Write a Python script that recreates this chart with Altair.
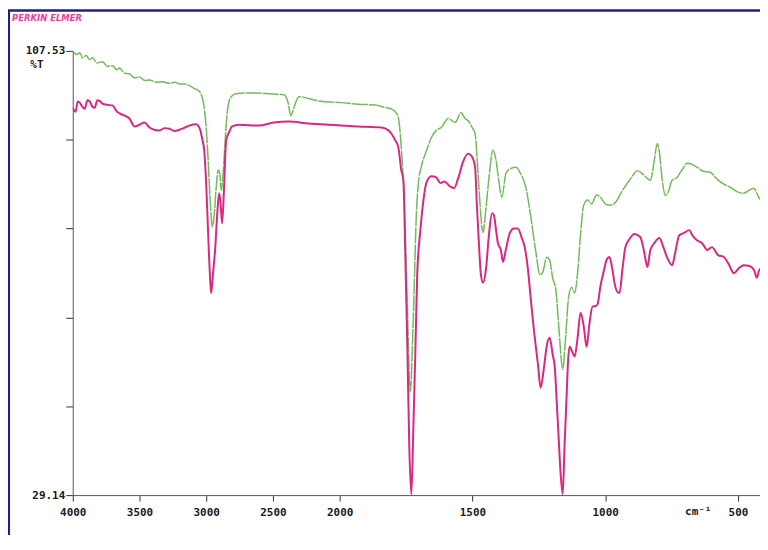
import altair as alt
import pandas as pd

green_wn = [4000, 3970, 3948, 3925, 3900, 3873, 3850, 3820, 3776, 3740, 3701, 3670, 3649, 3610,
            3575, 3540, 3500, 3460, 3425, 3373, 3330, 3276, 3230, 3201, 3160, 3127, 3082, 3052,
            3030, 3015, 3000, 2985, 2970, 2955, 2940, 2925, 2910, 2899, 2888, 2873, 2858, 2843,
            2828, 2806, 2776, 2679, 2530, 2418, 2388, 2366, 2343, 2306, 2157, 1993, 1929, 1865,
            1835, 1805, 1786, 1779, 1768, 1756, 1745, 1734, 1723, 1711, 1704, 1693, 1674, 1655,
            1636, 1618, 1591, 1565, 1543, 1528, 1516, 1501, 1490, 1483, 1475, 1460, 1449, 1438,
            1423, 1411, 1400, 1389, 1374, 1355, 1336, 1318, 1299, 1280, 1261, 1246, 1235, 1220,
            1209, 1198, 1186, 1175, 1160, 1149, 1138, 1126, 1115, 1104, 1093, 1081, 1066, 1051,
            1033, 1018, 999, 980, 961, 939, 916, 898, 879, 856, 830, 815, 804, 796, 785, 774,
            763, 748, 729, 710, 691, 673, 654, 631, 605, 579, 553, 530, 504, 478, 459, 440, 422, 403]
green_t = [107.53, 106.9, 107.2, 106.3, 106.7, 106.0, 106.3, 105.4, 105.6, 104.8, 104.9, 104.2, 104.5, 103.6,
           103.5, 102.8, 102.9, 102.3, 102.4, 102.0, 102.1, 101.8, 102.0, 101.7, 101.7, 101.4, 100.8, 100.4,
           99.3, 97.5, 94.0, 88.0, 81.0, 76.5, 78.5, 83.5, 86.5, 86.0, 82.9, 86.0, 91.7, 96.6,
           98.7, 99.6, 99.97, 100.1, 99.97, 99.8, 98.5, 96.1, 97.5, 99.45, 98.7, 98.4, 98.1, 98.0,
           97.6, 97.3, 96.5, 95.75, 90.5, 80.0, 62.0, 47.4, 60.0, 78.9, 84.0, 87.0, 89.8, 92.2,
           93.5, 94.0, 95.6, 94.9, 96.6, 95.6, 95.2, 94.0, 92.9, 89.0, 83.0, 75.5, 79.8, 85.0,
           90.0, 88.2, 84.3, 81.7, 85.9, 86.8, 87.0, 85.8, 83.5, 78.2, 72.0, 68.0, 68.5, 71.1,
           70.6, 67.5, 65.4, 59.0, 51.3, 57.0, 64.0, 65.8, 64.8, 68.4, 75.0, 80.3, 81.2, 80.5,
           82.1, 81.7, 80.5, 80.3, 80.8, 82.6, 84.2, 85.4, 86.4, 85.7, 84.7, 88.2, 91.2, 89.6, 84.7, 82.0,
           82.6, 84.7, 85.2, 86.6, 87.7, 87.5, 87.0, 86.3, 86.1, 84.9, 84.0, 83.5, 82.7, 82.4, 82.9, 83.3, 81.7, 80.6]

magenta_wn = [4000, 3978, 3963, 3948, 3925, 3910, 3890, 3873, 3850, 3836, 3815, 3799, 3776, 3739,
              3701, 3675, 3649, 3612, 3575, 3537, 3500, 3463, 3425, 3390, 3351, 3310, 3276, 3240,
              3201, 3160, 3127, 3075, 3045, 3030, 3015, 3000, 2985, 2970, 2963, 2948, 2933, 2918,
              2903, 2892, 2881, 2866, 2851, 2828, 2806, 2754, 2604, 2493, 2381, 2231, 2082, 1993,
              1929, 1843, 1816, 1805, 1790, 1779, 1768, 1760, 1753, 1745, 1738, 1730, 1723, 1715,
              1708, 1696, 1685, 1674, 1655, 1636, 1621, 1606, 1584, 1569, 1554, 1535, 1516, 1501,
              1490, 1483, 1475, 1468, 1460, 1449, 1438, 1426, 1419, 1411, 1404, 1393, 1385, 1374,
              1359, 1344, 1329, 1314, 1303, 1291, 1280, 1269, 1254, 1243, 1231, 1220, 1209, 1198,
              1190, 1183, 1175, 1168, 1160, 1153, 1145, 1141, 1134, 1123, 1115, 1104, 1093, 1081,
              1070, 1059, 1048, 1036, 1029, 1018, 1006, 995, 984, 973, 965, 954, 946, 935, 924,
              909, 890, 868, 853, 841, 830, 815, 796, 781, 766, 748, 736, 721, 703, 684, 669, 654,
              635, 616, 598, 575, 553, 534, 515, 496, 478, 459, 440, 429, 418, 403]
magenta_t = [97.5, 96.8, 98.6, 98.4, 97.6, 97.3, 98.8, 98.6, 97.6, 97.5, 98.8, 98.7, 98.2, 98.0,
             97.9, 97.0, 96.5, 96.1, 95.6, 94.2, 94.5, 94.9, 94.0, 93.6, 93.5, 93.9, 93.8, 93.4,
             93.6, 94.0, 94.35, 94.6, 93.6, 92.0, 90.0, 84.0, 75.0, 67.0, 64.8, 68.5, 72.5, 78.5,
             82.4, 80.5, 77.1, 83.5, 91.7, 93.2, 94.2, 94.5, 94.35, 94.9, 95.05, 94.7, 94.5, 94.35,
             94.2, 94.0, 93.5, 92.9, 91.7, 90.5, 86.5, 84.7, 72.0, 55.0, 38.0, 29.3, 40.0, 54.5,
             68.0, 75.9, 81.0, 84.15, 85.4, 85.2, 84.2, 84.5, 83.6, 83.3, 85.0, 88.0, 89.4, 88.8,
             87.0, 80.0, 73.0, 68.0, 66.6, 69.0, 75.0, 78.9, 78.5, 75.9, 73.6, 72.4, 70.3, 72.5,
             75.4, 76.2, 76.2, 74.5, 72.9, 69.0, 63.6, 58.5, 52.5, 48.1, 51.5, 55.5, 56.9, 54.0,
             51.8, 46.0, 39.0, 33.0, 29.3, 38.0, 47.0, 51.8, 55.3, 54.3, 53.6, 56.9, 61.3, 59.0,
             55.3, 59.5, 62.4, 62.5, 62.8, 66.0, 68.5, 70.6, 71.15, 69.0, 66.6, 65.0, 64.8, 69.0, 72.9,
             74.3, 75.2, 74.7, 72.0, 69.4, 72.4, 73.6, 74.5, 72.9, 71.0, 69.7, 72.0, 75.0, 75.4, 75.9, 74.8, 74.1,
             73.6, 72.4, 72.9, 71.5, 71.15, 69.8, 68.3, 69.2, 69.7, 69.6, 68.9, 67.5, 69.0, 67.1]

x_ticks = [4000, 3500, 3000, 2500, 2000, 1500, 1000, 500]
y_ticks = [29.14, 44.818, 60.496, 76.174, 91.852, 107.53]

W, H = 690, 446
FONT = "DejaVu Sans Mono"

xscale = alt.Scale(domain=[4000, 2000, 417], range=[0, 268, W], nice=False, zero=False)
yscale = alt.Scale(domain=[29.14, 107.53], nice=False, zero=False)

xaxis = alt.Axis(values=x_ticks, format="d", title=None, grid=False, tickSize=6,
                 labelPadding=5, labelFont=FONT, labelFontWeight="bold", labelFontSize=11,
                 labelColor="#1a1a1a", tickColor="#333", domainColor="#555", labelFlush=False)
yaxis = alt.Axis(values=y_ticks, title=None, grid=False, tickSize=7, labelPadding=1,
                 labelExpr="datum.value > 107 ? '107.53' : (datum.value < 29.2 ? '29.14' : '')",
                 labelFont=FONT, labelFontWeight="bold", labelFontSize=11, labelColor="#1a1a1a",
                 tickColor="#333", domainColor="#555")

gdf = pd.DataFrame({"wn": green_wn, "t": green_t, "o": range(len(green_wn))})
mdf = pd.DataFrame({"wn": magenta_wn, "t": magenta_t, "o": range(len(magenta_wn))})

green = alt.Chart(gdf).mark_line(color="#74ba5c", strokeWidth=1.5, interpolate="monotone",
                                 clip=True, strokeDash=[16, 1]).encode(
    x=alt.X("wn:Q", scale=xscale, axis=xaxis),
    y=alt.Y("t:Q", scale=yscale, axis=yaxis),
    order="o:Q")
magenta = alt.Chart(mdf).mark_line(color="#d8287f", strokeWidth=2, interpolate="monotone",
                                   clip=True).encode(
    x=alt.X("wn:Q", scale=xscale, axis=xaxis),
    y=alt.Y("t:Q", scale=yscale, axis=yaxis),
    order="o:Q")

one = pd.DataFrame({"a": [0]})
border_left = alt.Chart(one).mark_rule(color="#1f1f8c", strokeWidth=2.5).encode(
    x=alt.value(-64.2), y=alt.value(-41), y2=alt.value(H + 40))
border_top = alt.Chart(one).mark_rule(color="#1f1f8c", strokeWidth=2.5).encode(
    x=alt.value(-65), x2=alt.value(W + 10), y=alt.value(-40.5))

pe_text = alt.Chart(one).mark_text(text="PERKIN ELMER", font="DejaVu Sans", fontSize=8.5,
                                   fontStyle="italic", fontWeight="bold", color="#e0449c",
                                   align="left", baseline="middle").encode(
    x=alt.value(-61), y=alt.value(-33))
pt_text = alt.Chart(one).mark_text(text="%T", font=FONT, fontSize=11, fontWeight="bold",
                                   color="#1a1a1a", align="center", baseline="middle").encode(
    x=alt.value(-36), y=alt.value(14))
cm_text = alt.Chart(one).mark_text(text="cm⁻¹", font=FONT, fontSize=11, fontWeight="bold",
                                   color="#1a1a1a", align="center", baseline="top").encode(
    x=alt.value(628), y=alt.value(H + 11))

chart = alt.layer(green, magenta, border_left, border_top, pe_text, pt_text, cm_text).properties(
    width=W, height=H,
    padding={"left": 65, "top": 42, "right": 0, "bottom": 40},
    autosize=alt.AutoSizeParams(type="none"),
    background="white",
).configure_view(stroke=None)

chart.save("out.html", embed_options={"renderer": "svg", "actions": False})
